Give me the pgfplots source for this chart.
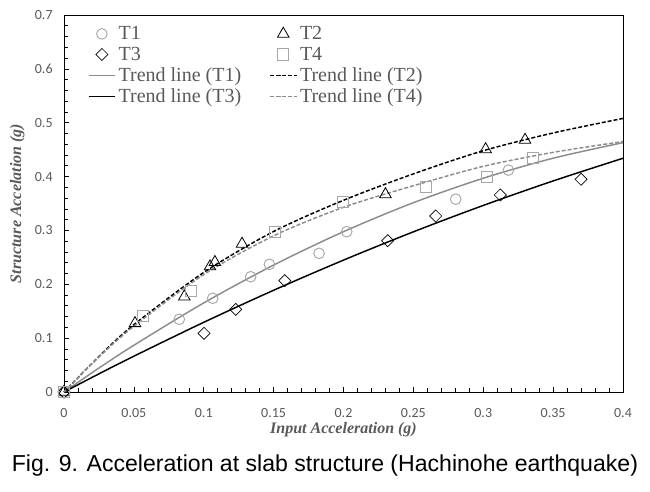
\documentclass[border=0pt]{standalone}
\usepackage{pgfplots}
\pgfplotsset{compat=1.18}
\usepackage{fontspec}
\setmainfont{Liberation Serif}
\newfontfamily\carlito{Carlito}
\newfontfamily\capfont{Liberation Sans}

\definecolor{txtgray}{HTML}{595959}
\definecolor{mkgray}{HTML}{A6A6A6}
\definecolor{lngray}{HTML}{8C8C8C}

\begin{document}
\begin{tikzpicture}
\path[use as bounding box] (-48pt,-75pt) rectangle (439.5pt,294pt);
\begin{axis}[
    scale only axis,
    width=419.25pt, height=282.75pt,
    xmin=0, xmax=0.4, ymin=0, ymax=0.7,
    xtick={0,0.05,...,0.4}, ytick={0,0.1,...,0.7},
    minor x tick num=4, minor y tick num=4,
    tick align=inside, xtick pos=bottom, ytick pos=left,
    major tick length=3.5pt, minor tick length=3pt,
    tick style={black, line width=0.5pt},
    axis line style={black, line width=0.6pt},
    /pgf/number format/.cd, fixed, precision=2, assume math mode=true,
    /pgfplots/.cd,
    ticklabel style={font=\carlito\fontsize{10.5}{12}\selectfont, text=txtgray},
    xticklabel style={yshift=-9pt},
    yticklabel style={xshift=-5pt},
    xlabel={\textbf{\textit{Input Acceleration (g)}}},
    ylabel={\textbf{\textit{Structure Accelation (g)}}},
    label style={font=\fontsize{12}{14}\selectfont, text=txtgray},
    xlabel style={at={(rel axis cs:0.5,0)}, anchor=center, yshift=-28.5pt},
    ylabel style={at={(rel axis cs:0,0.5)}, anchor=center, rotate=0, yshift=35pt},
    clip=false,
    legend columns=2,
    legend cell align=left,
    legend style={draw=none, fill=none, at={(rel axis cs:0.035,0.985)}, anchor=north west,
        font=\fontsize{15}{15}\selectfont, text=txtgray, row sep=0pt,
        /tikz/every even column/.append style={column sep=19pt}},
    legend image code/.code={\draw[mark repeat=2,mark phase=2,#1] plot coordinates {(0pt,0pt) (10pt,0pt) (20pt,0pt)};},
]
% measured points
\addplot[only marks, mark=o, mark size=4pt, mkgray, line width=0.7pt] coordinates {
(0,0) (0.0825,0.135) (0.1064,0.174) (0.1336,0.214) (0.147,0.237)
(0.1825,0.2575) (0.2023,0.2977) (0.2803,0.358) (0.318,0.412)};
\addlegendentry{T1}
\addplot[only marks, mark=triangle, mark size=5pt, black, line width=0.6pt] coordinates {
(0,0) (0.0508,0.1276) (0.0861,0.177) (0.1045,0.233) (0.108,0.241)
(0.1274,0.275) (0.230,0.367) (0.3017,0.4506) (0.3299,0.468)};
\addlegendentry{T2}
\addplot[only marks, mark=square, mark size=3.2pt, black, line width=0.5pt,
    every mark/.append style={rotate=45}] coordinates {
(0,0) (0.1002,0.109) (0.1229,0.1535) (0.158,0.2067) (0.2316,0.281)
(0.266,0.3268) (0.3122,0.3658) (0.37,0.395)};
\addlegendentry{T3}
\addplot[only marks, mark=square, mark size=4.2pt, mkgray, line width=0.7pt] coordinates {
(0,0) (0.0563,0.141) (0.0906,0.188) (0.151,0.2977) (0.1999,0.3534)
(0.2588,0.3806) (0.3025,0.399) (0.3358,0.435)};
\addlegendentry{T4}
% trend lines
\addplot[lngray, line width=1.1pt, smooth, no marks] coordinates {
(0,0) (0.025,0.0445) (0.05,0.0868) (0.1,0.1654) (0.15,0.2357) (0.2,0.2977)
(0.25,0.3515) (0.3,0.3969) (0.35,0.4341) (0.4,0.463)};
\addlegendentry{Trend line (T1)}
\addplot[black, line width=1.1pt, dash pattern=on 3pt off 1.5pt, smooth, no marks] coordinates {
(0,0) (0.025,0.066) (0.05,0.125) (0.1,0.222) (0.15,0.298) (0.2,0.356)
(0.25,0.405) (0.3,0.448) (0.35,0.481) (0.4,0.508)};
\addlegendentry{Trend line (T2)}
\addplot[black, line width=1.1pt, smooth, no marks] coordinates {
(0,0) (0.025,0.0337) (0.05,0.0665) (0.1,0.1294) (0.15,0.1889) (0.2,0.2449)
(0.25,0.2974) (0.3,0.3464) (0.35,0.3919) (0.4,0.434)};
\addlegendentry{Trend line (T3)}
\addplot[lngray, line width=1.1pt, dash pattern=on 3pt off 1.5pt, smooth, no marks] coordinates {
(0,0) (0.025,0.065) (0.05,0.122) (0.1,0.218) (0.15,0.29) (0.2,0.343)
(0.25,0.383) (0.3,0.419) (0.35,0.445) (0.4,0.465)};
\addlegendentry{Trend line (T4)}
\node[font=\capfont\fontsize{17.3}{20}\selectfont, text=black, anchor=center]
    at (rel axis cs:0.5,0) [yshift=-55.5pt, xshift=-13.9pt] {Fig. 9. Acceleration at slab structure (Hachinohe earthquake)};
\end{axis}
\end{tikzpicture}
\end{document}
